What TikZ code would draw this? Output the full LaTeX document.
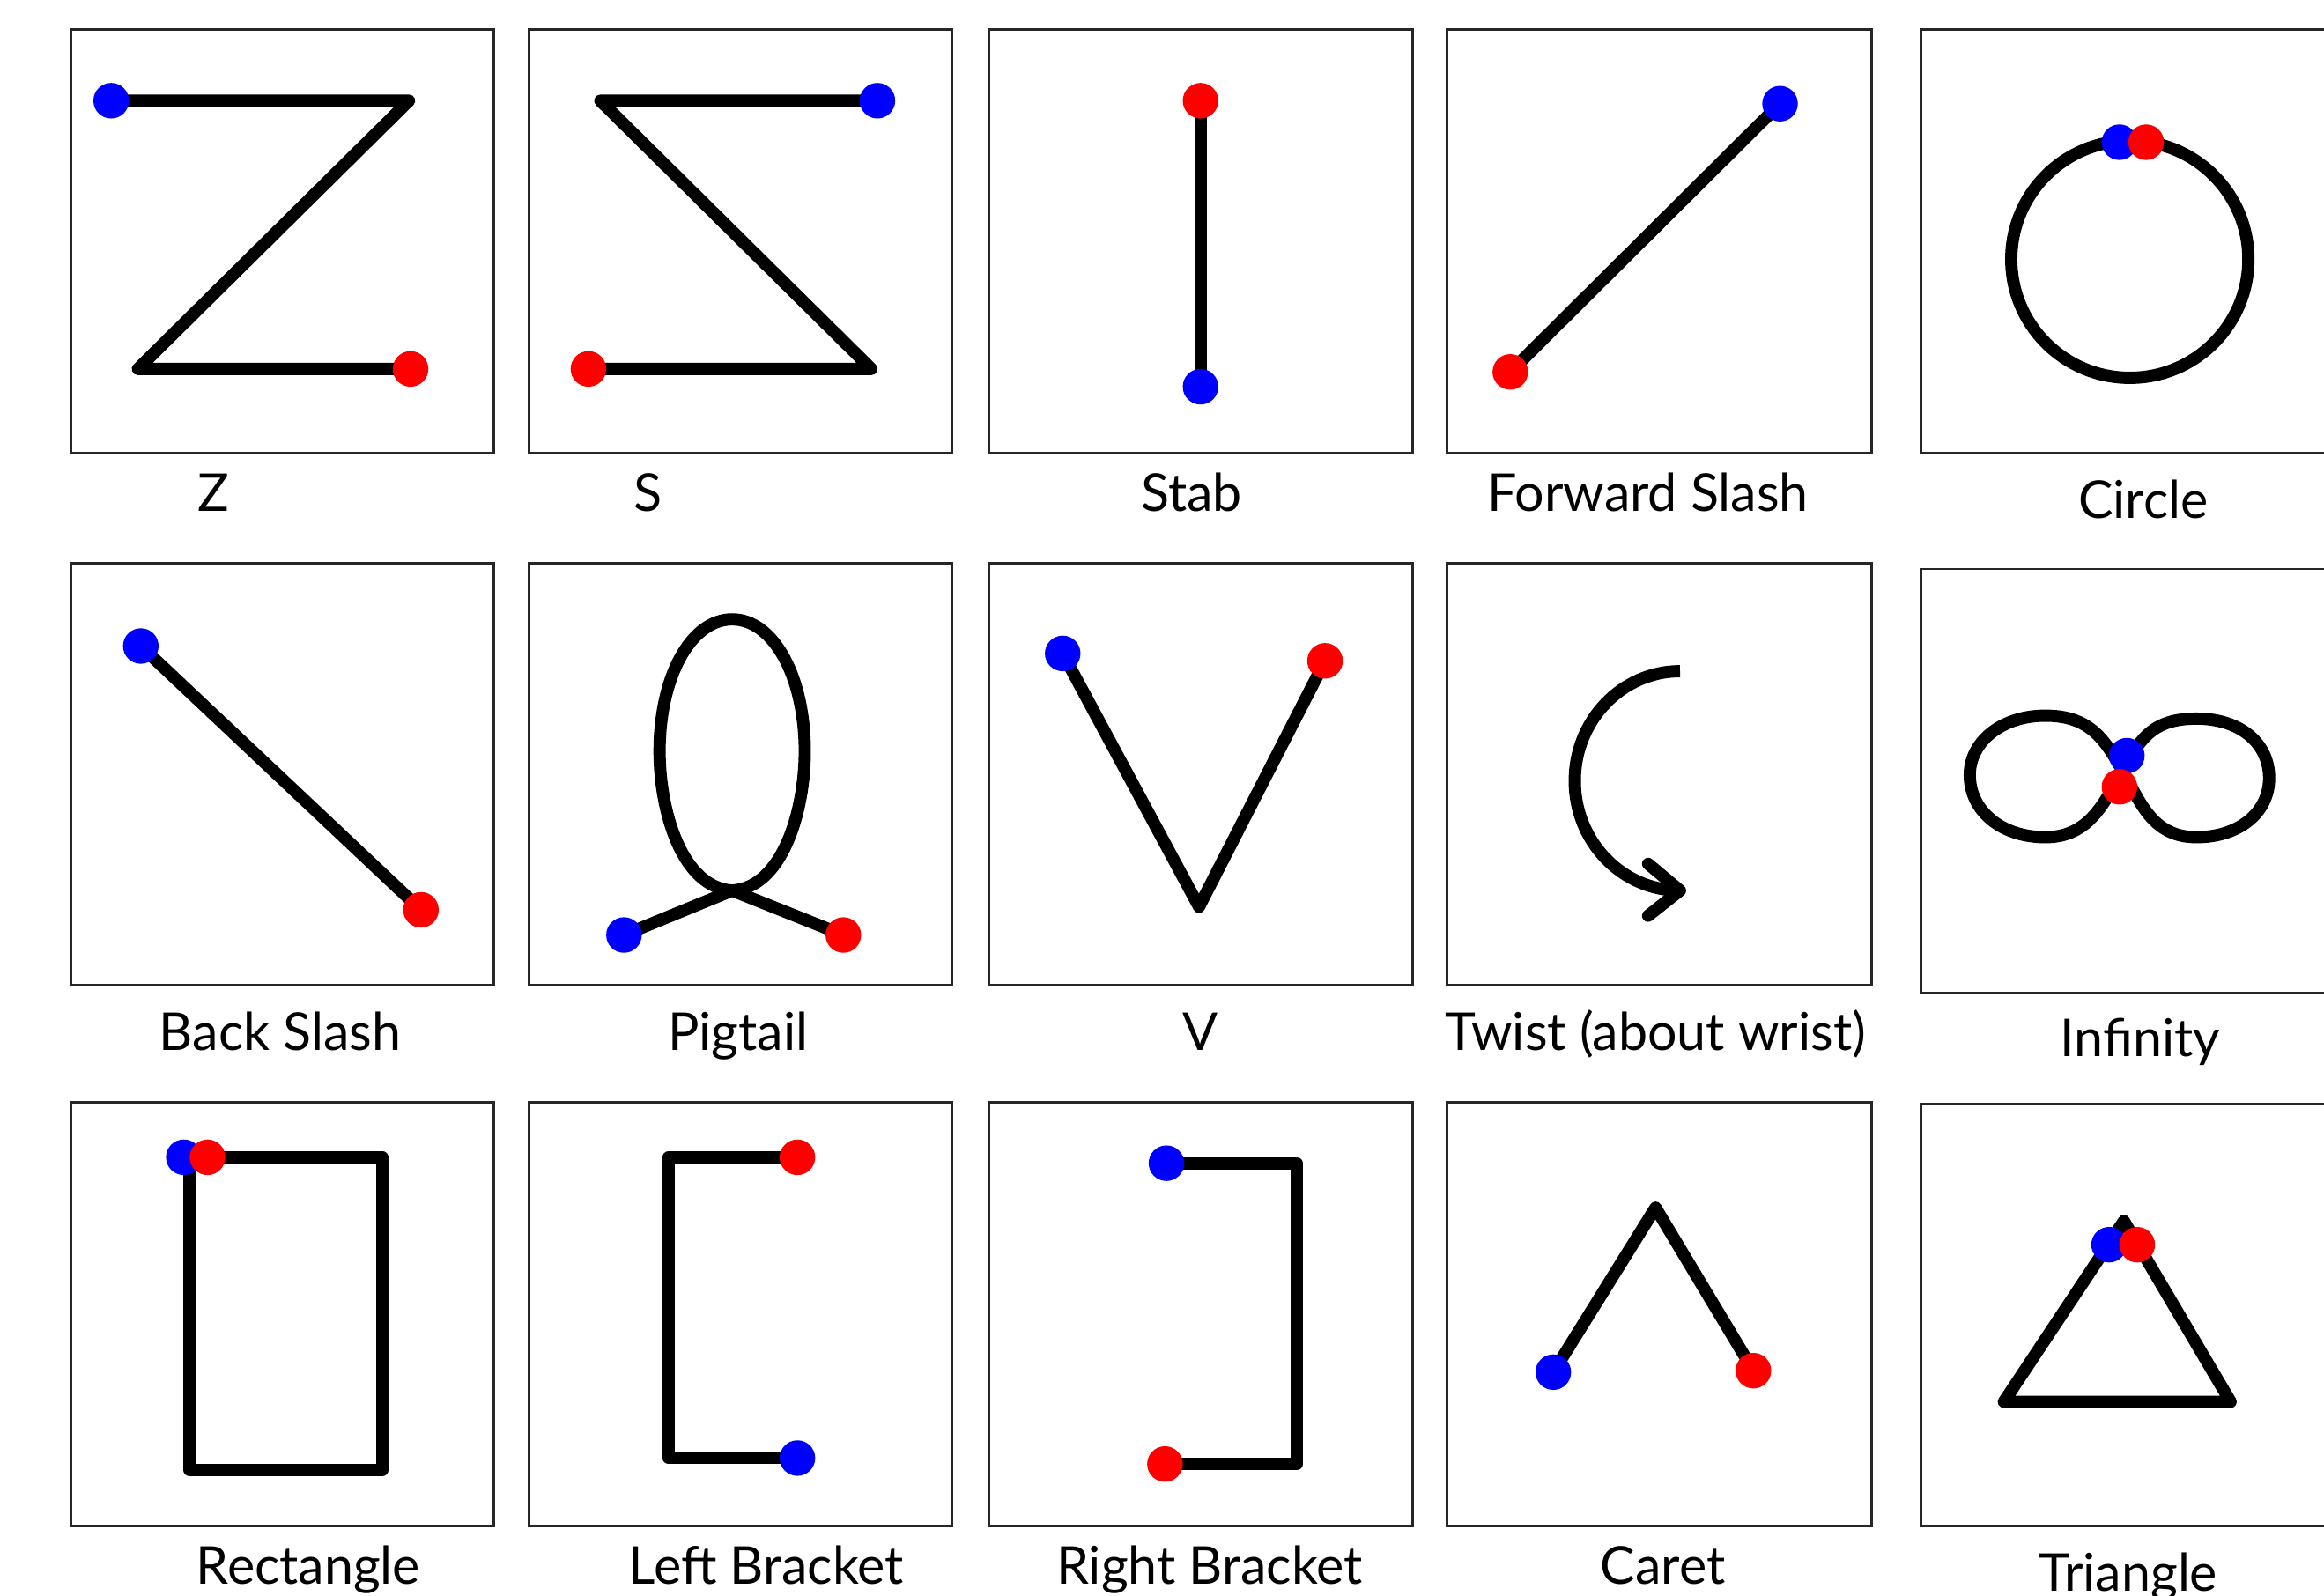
\documentclass[tikz,border=0pt]{standalone}
\usepackage{fontspec}
\setmainfont{Lato}
\begin{document}
\begin{tikzpicture}[x=0.01cm,y=0.01cm,
  frame/.style={draw=black!85,line width=0.5pt},
  stroke/.style={line width=2.35pt,line cap=round,line join=round},
  bdot/.style={fill=blue},
  rdot/.style={fill=red},
  lbl/.style={anchor=base,inner sep=0pt,font=\fontsize{10}{12}\selectfont}]
\clip (0,0) rectangle (1568,1077);
\fill[white] (0,0) rectangle (1568,1077);
% frames
\draw[frame] (48,771) rectangle (333,1057);
\draw[frame] (357,771) rectangle (642,1057);
\draw[frame] (667,771) rectangle (953,1057);
\draw[frame] (976,771) rectangle (1263,1057);
\draw[frame] (1296,771) rectangle (1620,1057);
\draw[frame] (48,412) rectangle (333,697);
\draw[frame] (357,412) rectangle (642,697);
\draw[frame] (667,412) rectangle (953,697);
\draw[frame] (976,412) rectangle (1263,697);
\draw[frame] (1296,407) rectangle (1620,693);
\draw[frame] (48,47) rectangle (333,333);
\draw[frame] (357,47) rectangle (642,333);
\draw[frame] (667,47) rectangle (953,333);
\draw[frame] (976,47) rectangle (1263,333);
\draw[frame] (1296,47) rectangle (1620,332);
% Z
\draw[stroke] (75,1009) -- (276,1009) -- (93,828) -- (277,828);
\fill[bdot] (75,1009) circle[radius=12];
\fill[rdot] (277,828) circle[radius=12];
% S
\draw[stroke] (592,1009) -- (405,1009) -- (588,828) -- (397,828);
\fill[bdot] (592,1009) circle[radius=12];
\fill[rdot] (397,828) circle[radius=12];
% Stab
\draw[stroke] (810,1009) -- (810,816);
\fill[rdot] (810,1009) circle[radius=12];
\fill[bdot] (810,816) circle[radius=12];
% Forward slash
\draw[stroke] (1019,826) -- (1201,1007);
\fill[rdot] (1019,826) circle[radius=12];
\fill[bdot] (1201,1007) circle[radius=12];
% Circle
\draw[stroke] (1437,902) circle[radius=80];
\fill[bdot] (1430,981) circle[radius=12];
\fill[rdot] (1448,981) circle[radius=12];
% Back slash
\draw[stroke] (95,641) -- (284,463);
\fill[bdot] (95,641) circle[radius=12];
\fill[rdot] (284,463) circle[radius=12];
% Pigtail
\draw[stroke] (494,476) .. controls (528,478) and (543,530) .. (543,570)
  .. controls (543,620) and (522,659) .. (494,659)
  .. controls (466,659) and (445,620) .. (445,570)
  .. controls (445,530) and (460,478) .. (494,476);
\draw[stroke] (421,446) -- (494,476) -- (569,446);
\fill[bdot] (421,446) circle[radius=12];
\fill[rdot] (569,446) circle[radius=12];
% V
\draw[stroke] (717,636) -- (809,465) -- (894,631);
\fill[bdot] (717,636) circle[radius=12];
\fill[rdot] (894,631) circle[radius=12];
% Twist
\draw[line width=2.35pt] (1133.5,624) arc[start angle=90,end angle=270,x radius=71,y radius=74];
\draw[stroke] (1112,494) -- (1133.5,476) -- (1112,459);
% Infinity
\draw[stroke] (1432,557) .. controls (1444,578) and (1452,592) .. (1482,592)
  .. controls (1512,592) and (1531,575) .. (1531,552)
  .. controls (1531,528) and (1510,512) .. (1482,512)
  .. controls (1452,512) and (1444,536) .. (1432,557)
  .. controls (1420,578) and (1410,594) .. (1380,594)
  .. controls (1350,594) and (1329,576) .. (1329,554)
  .. controls (1329,530) and (1350,512) .. (1380,512)
  .. controls (1410,512) and (1420,536) .. (1432,557);
\fill[bdot] (1435,567) circle[radius=12];
\fill[rdot] (1430,546) circle[radius=12];
% Rectangle
\draw[stroke] (140,296) -- (258,296) -- (258,85) -- (128,85) -- (128,296);
\fill[bdot] (124,296) circle[radius=12];
\fill[rdot] (140,296) circle[radius=12];
% Left bracket
\draw[stroke] (538,296) -- (451,296) -- (451,93) -- (538,93);
\fill[rdot] (538,296) circle[radius=12];
\fill[bdot] (538,93) circle[radius=12];
% Right bracket
\draw[stroke] (787,292) -- (875,292) -- (875,89) -- (786,89);
\fill[bdot] (787,292) circle[radius=12];
\fill[rdot] (786,89) circle[radius=12];
% Caret
\draw[stroke] (1048,151) -- (1117,262) -- (1183,152);
\fill[bdot] (1048,151) circle[radius=12];
\fill[rdot] (1183,152) circle[radius=12];
% Triangle
\draw[stroke] (1433,253) -- (1505,131) -- (1352,131) -- cycle;
\fill[bdot] (1423,237) circle[radius=12];
\fill[rdot] (1442,237) circle[radius=12];
% labels
\node[lbl] (lz) at (144,732) {Z};
\node[lbl] (ls) at (437,732) {S};
\node[lbl] (lstab) at (804,732) {Stab};
\node[lbl] (lfs) at (1112,732) {Forward Slash};
\node[lbl] (lcirc) at (1446,727) {Circle};
\node[lbl] (lbs) at (189,368) {Back Slash};
\node[lbl] (lpig) at (498,368) {Pigtail};
\node[lbl] (lv) at (810,368) {V};
\node[lbl] (ltw) at (1117,368) {Twist (about wrist)};
\node[lbl] (linf) at (1444,364) {Infinity};
\node[lbl] (lrect) at (208,8) {Rectangle};
\node[lbl] (llb) at (517,8) {Left Bracket};
\node[lbl] (lrb) at (816,8) {Right Bracket};
\node[lbl] (lcar) at (1122,8) {Caret};
\node[lbl] (ltri) at (1436,3) {Triangle};
\end{tikzpicture}
\end{document}
